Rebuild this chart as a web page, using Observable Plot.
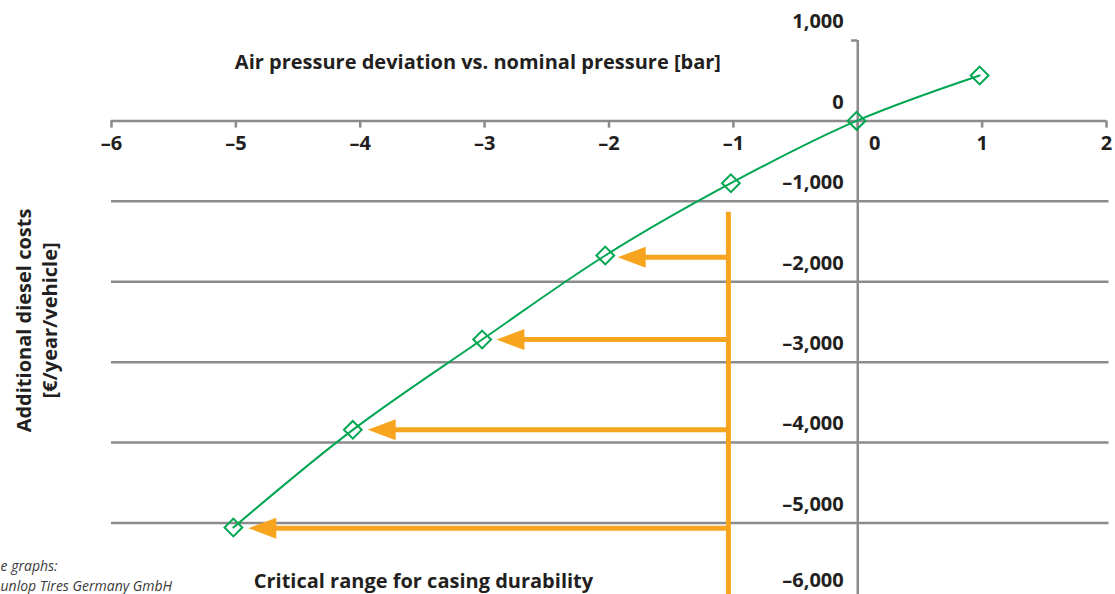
<!DOCTYPE html>
<html>
<head>
<meta charset="utf-8">
<script src="https://cdn.jsdelivr.net/npm/d3@7"></script>
<script src="https://cdn.jsdelivr.net/npm/@observablehq/plot@0.6"></script>
<style>
  html, body { margin: 0; padding: 0; background: #ffffff; }
  #chart { width: 1115px; height: 594px; overflow: hidden; }
  #chart svg { font-family: "Open Sans", "Noto Sans", sans-serif; }
</style>
</head>
<body>
<div id="chart"></div>
<script>
// ---- data ----
const pressureDeviation = [-5.02, -4.06, -3.02, -2.03, -1.02, -0.01, 0.98];
const dieselCost        = [-5057, -3842, -2719, -1674, -775, 0, 565];

const xTickValues = [-6, -5, -4, -3, -2, -1, 0, 1, 2];
const xTickLabels = ["–6", "–5", "–4", "–3", "–2", "–1", "0", "1", "2"];
const yTickValues = [1000, 0, -1000, -2000, -3000, -4000, -5000, -6000];
const yTickLabels = ["1,000", "0", "–1,000", "–2,000", "–3,000", "–4,000", "–5,000", "–6,000"];
const gridValues  = [-1000, -2000, -3000, -4000, -5000];

const criticalPressure = -1.04;     // vertical orange line
const criticalTop      = -1135;
const arrowLevels      = [-1695, -2720, -3842, -5065];
const arrowTips        = [-1.93, -2.905, -3.94, -4.90];

const titleText    = "Air pressure deviation vs. nominal pressure [bar]";
const yLabelText   = "Additional diesel costs\n[€/year/vehicle]";
const criticalText = "Critical range for casing durability";
const sourceText   = "e graphs:\nunlop Tires Germany GmbH";

// ---- derived tables ----
const points = pressureDeviation.map((x, i) => ({x, y: dieselCost[i]}));
const arrows = arrowLevels.map((y, i) => ({y, tip: arrowTips[i]}));
const xTicks = xTickValues.map((v, i) => ({v, label: xTickLabels[i]}));
const yTicks = yTickValues.map((v, i) => ({v, label: yTickLabels[i]}));

const GRAY = "#8b8b8d", GREEN = "#00a651", ORANGE = "#f7a51f", INK = "#231f20";

const arrowHead = {
  draw(context) {
    context.moveTo(0, 0);
    context.lineTo(28, -10.5);
    context.lineTo(28, 10.5);
    context.closePath();
  }
};

const yLabelStyle = {x: 0, y: "v", text: "label", dx: -14, textAnchor: "end", fontSize: 20, fontWeight: 700, fill: INK};

const chart = Plot.plot({
  width: 1115,
  height: 594,
  marginLeft: 111,
  marginRight: 9,
  marginTop: 40,
  marginBottom: 0,
  x: {domain: [-6, 2], axis: null},
  y: {domain: [-5890, 1000], axis: null},
  style: {background: "#ffffff", color: INK, fontFamily: "'Open Sans', sans-serif"},
  marks: [
    // gridlines
    Plot.ruleY(gridValues, {y: d => d, x1: -6, x2: 2.02, stroke: GRAY, strokeWidth: 2.5}),
    // x axis line and ticks
    Plot.ruleY([0], {x1: -6, x2: 2, stroke: GRAY, strokeWidth: 2.5}),
    Plot.ruleX(xTicks, {x: "v", y1: 0, y2: -90, stroke: GRAY, strokeWidth: 2.5}),
    // y axis line and top tick
    Plot.ruleX([0], {y1: 1000, y2: -5890, stroke: GRAY, strokeWidth: 2.5}),
    Plot.ruleY([1000], {x1: -0.05, x2: 0, stroke: GRAY, strokeWidth: 2.5}),
    // x tick labels
    Plot.text(xTicks.filter(d => d.v !== 0), {x: "v", y: 0, text: "label", dy: 23, fontSize: 20, fontWeight: 700, fill: INK}),
    Plot.text(xTicks.filter(d => d.v === 0), {x: "v", y: 0, text: "label", dy: 23, dx: 17, fontSize: 20, fontWeight: 700, fill: INK}),
    // y tick labels (the lowest one nudged up to stay inside the picture)
    Plot.text(yTicks.filter(d => d.v > -6000), {...yLabelStyle, dy: -18.5}),
    Plot.text(yTicks.filter(d => d.v === -6000), {...yLabelStyle, dy: -22.5}),
    // critical range (orange)
    Plot.ruleX([criticalPressure], {y1: criticalTop, y2: -5890, stroke: ORANGE, strokeWidth: 5}),
    Plot.ruleY(arrows, {y: "y", x1: criticalPressure, x2: d => d.tip + 0.15, stroke: ORANGE, strokeWidth: 5}),
    Plot.dot(arrows, {x: "tip", y: "y", symbol: arrowHead, fill: ORANGE, stroke: "none", r: 5}),
    // cost curve
    Plot.line(points, {x: "x", y: "y", curve: "catmull-rom", stroke: GREEN, strokeWidth: 2}),
    Plot.dot(points, {x: "x", y: "y", symbol: "diamond2", r: 8, stroke: GREEN, strokeWidth: 2, fill: "none"}),
    // annotations
    Plot.text([titleText], {x: -3.054, y: 726, text: d => d, fontSize: 20, fontWeight: 700, fill: INK}),
    Plot.text([criticalText], {x: -3.492, y: -5725, text: d => d, fontSize: 20, fontWeight: 700, fill: INK}),
    Plot.text([yLabelText], {x: -6.611, y: -2482, text: d => d, rotate: -90, fontSize: 20, fontWeight: 700, lineHeight: 1.3, fill: INK}),
    Plot.text([sourceText], {x: -6.892, y: -5641, text: d => d, textAnchor: "start", fontSize: 14, fontStyle: "italic", lineHeight: 1.45, fill: "#3a3a3a"})
  ]
});
document.getElementById("chart").appendChild(chart);
</script>
</body>
</html>
